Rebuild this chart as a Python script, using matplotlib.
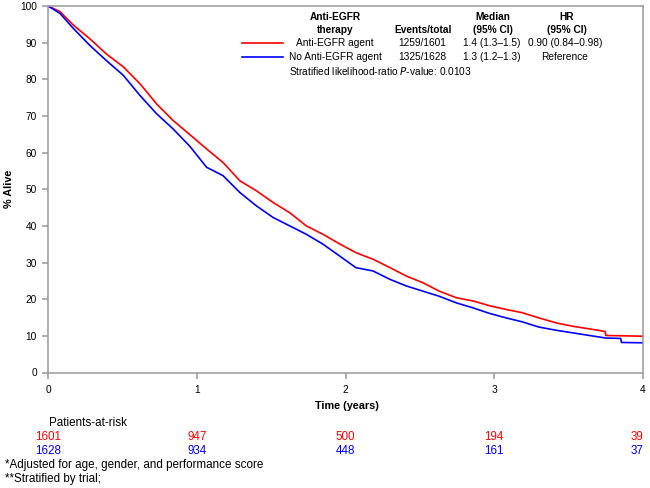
import matplotlib
matplotlib.use("Agg")
import matplotlib.pyplot as plt
from matplotlib.transforms import blended_transform_factory

plt.rcParams['font.family'] = ['Liberation Sans', 'DejaVu Sans']

# Kaplan-Meier curves
t_red = [0, 0.08, 0.17, 0.28, 0.39, 0.506, 0.618, 0.73, 0.84, 0.954, 1.066, 1.177,
         1.29, 1.40, 1.513, 1.625, 1.737, 1.849, 1.96, 2.07, 2.185, 2.30, 2.41, 2.52,
         2.63, 2.745, 2.86, 2.97, 3.08, 3.19, 3.30, 3.42, 3.53, 3.64, 3.745, 3.75, 4.0]
s_red = [100, 98.5, 94.8, 91.1, 87.0, 83.4, 78.8, 73.3, 68.8, 64.9, 61.0, 57.3,
         52.3, 49.6, 46.4, 43.6, 40.0, 37.7, 35.1, 32.7, 30.9, 28.6, 26.3, 24.5,
         22.2, 20.4, 19.5, 18.2, 17.2, 16.3, 14.9, 13.5, 12.6, 11.9, 11.2, 10.1, 9.9]

t_blue = [0, 0.08, 0.17, 0.28, 0.39, 0.506, 0.618, 0.73, 0.84, 0.954, 1.066, 1.177,
          1.29, 1.40, 1.513, 1.625, 1.737, 1.849, 1.96, 2.07, 2.185, 2.30, 2.41, 2.52,
          2.63, 2.745, 2.86, 2.97, 3.08, 3.19, 3.30, 3.42, 3.53, 3.64, 3.75, 3.85, 3.855, 4.0]
s_blue = [100, 98.0, 93.9, 89.3, 85.2, 81.1, 75.6, 70.6, 66.5, 61.7, 56.0, 53.7,
          49.1, 45.5, 42.3, 40.0, 37.7, 35.0, 31.8, 28.6, 27.7, 25.4, 23.6, 22.2,
          20.8, 19.0, 17.6, 16.1, 14.9, 13.8, 12.4, 11.5, 10.8, 10.1, 9.4, 9.3, 8.2, 8.1]

risk_times = [0, 1, 2, 3, 4]
risk_red = [1601, 947, 500, 194, 39]
risk_blue = [1628, 934, 448, 161, 37]

group_names = ["Anti-EGFR agent", "No Anti-EGFR agent"]
events_total = ["1259/1601", "1325/1628"]
medians = ["1.4 (1.3\u20131.5)", "1.3 (1.2\u20131.3)"]
hrs = ["0.90 (0.84\u20130.98)", "Reference"]

RED = "#ff0000"
BLUE = "#0000ff"
GRAY = "#999999"
FS = 7.3
FS_B = 8.4

W, H = 650, 488
fig = plt.figure(figsize=(6.5, 4.88), dpi=100)
def fx(px): return px / W
def fy(py): return 1 - py / H

ax = fig.add_axes([fx(48), fy(372.5), fx(643) - fx(48), fy(6) - fy(372.5)])
ax.plot(t_red, s_red, color=RED, lw=1.2)
ax.plot(t_blue, s_blue, color=BLUE, lw=1.2)
ax.set_xlim(0, 4)
ax.set_ylim(0, 100)
ax.set_xticks([0, 1, 2, 3, 4])
ax.set_yticks(range(0, 101, 10))
for s in ax.spines.values():
    s.set_color(GRAY)
    s.set_linewidth(1.1)
ax.tick_params(colors=GRAY, labelcolor="black", labelsize=FS, length=4, width=1.1)
ax.tick_params(axis='y', pad=4)
ax.tick_params(axis='x', pad=5)

fig.text(fx(347), fy(406), "Time (years)", ha="center", va="center", fontsize=7.8, fontweight="bold")
fig.text(fx(9), fy(189), "% Alive", ha="center", va="center", rotation=90, fontsize=7.8, fontweight="bold")

# header table
hdr_y1, hdr_y2 = fy(17), fy(30)
fig.text(fx(335), hdr_y1, "Anti-EGFR", ha="center", va="center", fontsize=FS, fontweight="bold")
fig.text(fx(335), hdr_y2, "therapy", ha="center", va="center", fontsize=FS, fontweight="bold")
fig.text(fx(423), hdr_y2, "Events/total", ha="center", va="center", fontsize=FS, fontweight="bold")
fig.text(fx(493), hdr_y1, "Median", ha="center", va="center", fontsize=FS, fontweight="bold")
fig.text(fx(493), hdr_y2, "(95% CI)", ha="center", va="center", fontsize=FS, fontweight="bold")
fig.text(fx(567), hdr_y1, "HR", ha="center", va="center", fontsize=FS, fontweight="bold")
fig.text(fx(567), hdr_y2, "(95% CI)", ha="center", va="center", fontsize=FS, fontweight="bold")

rows_y = [43, 57]
for i, (c, name) in enumerate(zip([RED, BLUE], group_names)):
    y = fy(rows_y[i])
    fig.add_artist(plt.Line2D([fx(242), fx(283)], [y, y], color=c, lw=1.2))
    fig.text(fx(335), y, name, ha="center", va="center", fontsize=FS)
    fig.text(fx(422), y, events_total[i], ha="center", va="center", fontsize=FS)
    fig.text(fx(492), y, medians[i], ha="center", va="center", fontsize=FS)
    fig.text(fx(565), y, hrs[i], ha="center", va="center", fontsize=FS)
fig.text(fx(289), fy(71), "Stratified likelihood-ratio $\\it{P}$-value: 0.0103",
         ha="left", va="center", fontsize=FS)

# patients at risk
tr = blended_transform_factory(ax.transData, fig.transFigure)
fig.text(fx(49), fy(423), "Patients-at-risk", ha="left", va="center", fontsize=FS_B)
for vals, c, py in [(risk_red, RED, 437), (risk_blue, BLUE, 451)]:
    for i, (t, v) in enumerate(zip(risk_times, vals)):
        if i == len(risk_times) - 1:
            ax.text(t, fy(py), str(v), transform=tr, ha="right", va="center",
                    fontsize=FS_B, color=c, clip_on=False)
        else:
            ax.text(t, fy(py), str(v), transform=tr, ha="center", va="center",
                    fontsize=FS_B, color=c, clip_on=False)
fig.text(fx(5), fy(465), "*Adjusted for age, gender, and performance score", ha="left", va="center", fontsize=FS_B)
fig.text(fx(5), fy(479), "**Stratified by trial;", ha="left", va="center", fontsize=FS_B)

fig.savefig("out.png", dpi=100)
